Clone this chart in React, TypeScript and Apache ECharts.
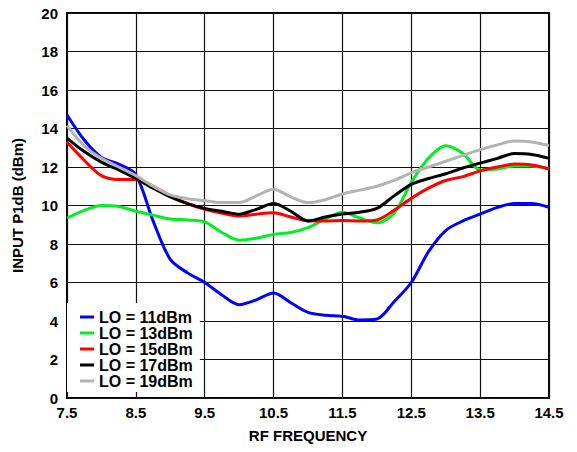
import React, { useEffect, useRef } from "react";
import * as echarts from "echarts";

const freq = [7.5, 7.75, 8.0, 8.25, 8.5, 8.75, 9.0, 9.25, 9.5, 9.75, 10.0, 10.25, 10.5, 10.75, 11.0, 11.25, 11.5, 11.75, 12.0, 12.25, 12.5, 12.75, 13.0, 13.25, 13.5, 13.75, 14.0, 14.25, 14.5];

const lo11 = [14.7, 13.4, 12.5, 12.15, 11.6, 9.2, 7.2, 6.5, 6.0, 5.35, 4.85, 5.1, 5.45, 4.95, 4.45, 4.3, 4.25, 4.05, 4.1, 5.0, 6.0, 7.6, 8.7, 9.2, 9.55, 9.9, 10.1, 10.1, 9.9];
const lo13 = [9.35, 9.75, 10.0, 9.95, 9.7, 9.5, 9.3, 9.25, 9.15, 8.6, 8.2, 8.3, 8.5, 8.6, 8.85, 9.3, 9.65, 9.35, 9.1, 9.6, 11.2, 12.45, 13.1, 12.7, 11.85, 11.9, 12.05, 12.05, 11.9];
const lo15 = [13.3, 12.35, 11.55, 11.35, 11.35, 11.0, 10.5, 10.1, 9.8, 9.6, 9.45, 9.55, 9.62, 9.4, 9.2, 9.2, 9.22, 9.2, 9.25, 9.75, 10.37, 10.9, 11.3, 11.5, 11.8, 12.0, 12.15, 12.1, 11.9];
const lo17 = [13.5, 12.8, 12.25, 11.85, 11.4, 10.9, 10.45, 10.1, 9.85, 9.7, 9.55, 9.8, 10.1, 9.7, 9.2, 9.4, 9.56, 9.65, 9.85, 10.5, 11.1, 11.4, 11.65, 11.95, 12.2, 12.45, 12.7, 12.65, 12.45];
const lo19 = [14.15, 13.1, 12.45, 12.0, 11.55, 11.0, 10.55, 10.35, 10.25, 10.15, 10.15, 10.5, 10.85, 10.45, 10.15, 10.3, 10.6, 10.8, 11.0, 11.3, 11.7, 12.0, 12.3, 12.6, 12.9, 13.15, 13.35, 13.3, 13.12];

const seriesNames = ["LO = 11dBm", "LO = 13dBm", "LO = 15dBm", "LO = 17dBm", "LO = 19dBm"];
const seriesColors = ["#0000ff", "#00ee22", "#ff0000", "#000000", "#b3b3b3"];
const seriesValues = [lo11, lo13, lo15, lo17, lo19];

const FONT = "Arial, 'Liberation Sans', sans-serif";

export default function App() {
  const ref = useRef<HTMLDivElement>(null);
  useEffect(() => {
    if (!ref.current) return;
    const chart = echarts.init(ref.current, null, { renderer: "svg" });
    chart.setOption({
      animation: false,
      backgroundColor: "#ffffff",
      grid: {
        left: 67,
        right: 28,
        top: 13,
        bottom: 54,
        show: true,
        borderColor: "#000",
        borderWidth: 2,
        backgroundColor: "transparent",
      },
      legend: {
        orient: "vertical",
        left: 67,
        top: 303,
        backgroundColor: "#ffffff",
        padding: [6, 7, 3, 13],
        itemGap: 0,
        itemWidth: 14,
        itemHeight: 3,
        icon: "rect",
        data: seriesNames,
        textStyle: {
          fontFamily: FONT,
          fontWeight: "bold",
          fontSize: 16,
          lineHeight: 16,
          color: "#000",
        },
      },
      xAxis: {
        type: "value",
        min: 7.5,
        max: 14.5,
        interval: 1,
        name: "RF FREQUENCY",
        nameLocation: "middle",
        nameGap: 30,
        nameTextStyle: { fontFamily: FONT, fontWeight: "bold", fontSize: 15, color: "#000" },
        axisLine: { show: false },
        axisTick: { show: false },
        axisLabel: {
          margin: 7,
          fontFamily: FONT,
          fontWeight: "bold",
          fontSize: 15,
          color: "#000",
          formatter: (v: number) => v.toFixed(1),
        },
        splitLine: { show: true, lineStyle: { color: "#111", width: 1.2 } },
      },
      yAxis: {
        type: "value",
        min: 0,
        max: 20,
        interval: 2,
        name: "INPUT P1dB (dBm)",
        nameLocation: "middle",
        nameGap: 42,
        nameTextStyle: { fontFamily: FONT, fontWeight: "bold", fontSize: 15, color: "#000" },
        axisLine: { show: false },
        axisTick: { show: false },
        axisLabel: {
          margin: 9,
          fontFamily: FONT,
          fontWeight: "bold",
          fontSize: 15,
          color: "#000",
        },
        splitLine: { show: true, lineStyle: { color: "#111", width: 1.2 } },
      },
      series: seriesNames.map((name, i) => ({
        name,
        type: "line",
        data: freq.map((f, j) => [f, seriesValues[i][j]]),
        smooth: 0.3,
        showSymbol: false,
        symbol: "none",
        color: seriesColors[i],
        lineStyle: { color: seriesColors[i], width: 3 },
      })),
    });
    return () => chart.dispose();
  }, []);
  return (
    <div
      ref={ref}
      style={{ position: "fixed", left: 0, top: 0, width: 577, height: 452 }}
    />
  );
}
